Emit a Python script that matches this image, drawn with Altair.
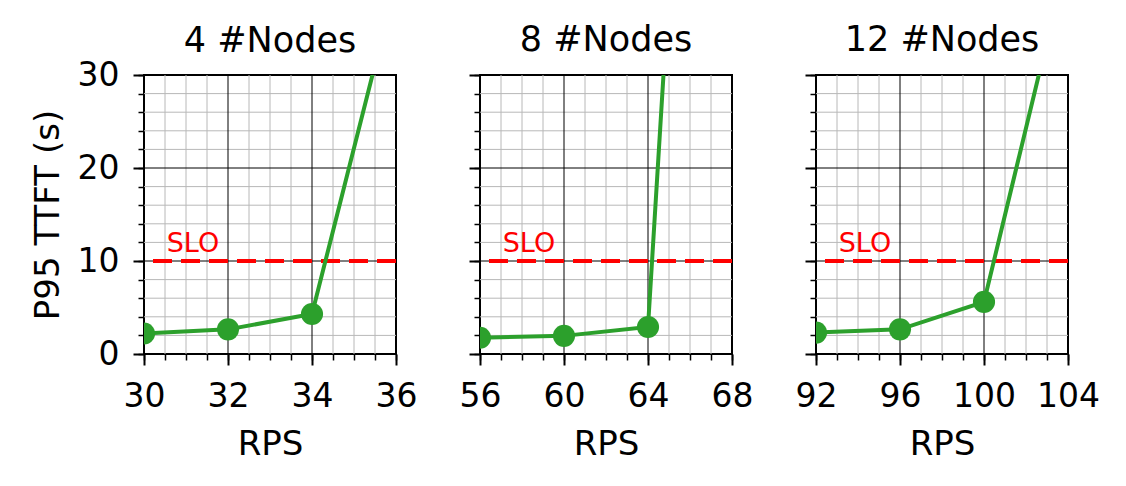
import altair as alt
import numpy as np
import pandas as pd

titles = ["4 #Nodes", "8 #Nodes", "12 #Nodes"]
rps = [[30, 32, 34, 36], [56, 60, 64, 68], [92, 96, 100, 104]]
ttft = [[2.2, 2.65, 4.3, 40], [1.75, 1.95, 2.9, 150], [2.3, 2.65, 5.6, 43]]
x_domains = [[30, 36], [56, 68], [92, 104]]
x_major = [[30, 32, 34, 36], [56, 60, 64, 68], [92, 96, 100, 104]]
x_minor_step = [0.5, 1, 1]
y_domain = [0, 30]
y_major = [0, 10, 20, 30]
y_minor_step = 2
slo = 10

GREEN = "#2ca02c"
FONT = "DejaVu Sans"
LFS = 33   # tick labels
TFS = 34   # axis titles
HFS = 35   # panel titles


def panel(i):
    dom = x_domains[i]
    xs = alt.Scale(domain=dom, nice=False, zero=False)
    ys = alt.Scale(domain=y_domain, nice=False)
    x_minor = [float(v) for v in np.round(np.arange(dom[0], dom[1] + 1e-9, x_minor_step[i]), 3)]
    y_minor = [float(v) for v in np.arange(y_domain[0], y_domain[1] + 1e-9, y_minor_step)]
    xg = [v for v in x_minor if v not in x_major[i]]
    yg = [v for v in y_minor if v not in y_major]
    xmaj_inner = [v for v in x_major[i] if dom[0] < v < dom[1]]
    ymaj_inner = [v for v in y_major if y_domain[0] < v < y_domain[1]]

    minor_x_axis = alt.Axis(values=x_minor, labels=False, tickSize=6, tickWidth=1.5,
                            tickColor="black", domain=False, grid=False, title=None,
                            orient="bottom")
    minor_y_axis = alt.Axis(values=y_minor, labels=False, tickSize=6, tickWidth=1.5,
                            tickColor="black", domain=False, grid=False, title=None,
                            orient="left")
    major_x_axis = alt.Axis(values=x_major[i], tickSize=11, tickWidth=2, tickColor="black",
                            domain=False, grid=False, title="RPS", labelFontSize=LFS,
                            titleFontSize=TFS, titleFontWeight="normal", labelPadding=15,
                            titlePadding=14, labelColor="black", titleColor="black",
                            orient="bottom", labelFlush=False)
    major_y_axis = alt.Axis(values=y_major, tickSize=11, tickWidth=2, tickColor="black",
                            domain=False, grid=False,
                            title="P95 TTFT (s)" if i == 0 else None,
                            labels=(i == 0), labelFontSize=LFS, titleFontSize=TFS,
                            titleFontWeight="normal", labelPadding=14, titlePadding=12,
                            labelColor="black", titleColor="black", orient="left",
                            labelFlush=False)

    gx = alt.Chart(pd.DataFrame({"v": xg})).mark_rule(color="#b8b8b8", strokeWidth=1).encode(
        x=alt.X("v:Q", scale=xs, axis=minor_x_axis))
    gy = alt.Chart(pd.DataFrame({"v": yg})).mark_rule(color="#b8b8b8", strokeWidth=1).encode(
        y=alt.Y("v:Q", scale=ys, axis=minor_y_axis))
    mx = alt.Chart(pd.DataFrame({"v": xmaj_inner})).mark_rule(color="black", strokeWidth=1).encode(
        x=alt.X("v:Q", scale=xs, axis=None))
    my = alt.Chart(pd.DataFrame({"v": ymaj_inner})).mark_rule(color="black", strokeWidth=1).encode(
        y=alt.Y("v:Q", scale=ys, axis=None))
    slo_rule = alt.Chart(pd.DataFrame({"v": [slo]})).mark_rule(
        color="red", strokeWidth=3.8, strokeDash=[19, 9]).encode(
        y=alt.Y("v:Q", scale=ys, axis=None))
    df = pd.DataFrame({"rps": rps[i], "ttft": ttft[i]})
    line = alt.Chart(df).mark_line(color=GREEN, strokeWidth=4, clip=True).encode(
        x=alt.X("rps:Q", scale=xs, axis=major_x_axis),
        y=alt.Y("ttft:Q", scale=ys, axis=major_y_axis))
    pts = alt.Chart(df).mark_circle(color=GREEN, size=490, opacity=1, clip=True).encode(
        x=alt.X("rps:Q", scale=xs, axis=None),
        y=alt.Y("ttft:Q", scale=ys, axis=None))
    txt = alt.Chart(pd.DataFrame({"x": [dom[0] + 0.09 * (dom[1] - dom[0])], "y": [slo + 1]})).mark_text(
        text="SLO", color="red", fontSize=27, align="left", baseline="alphabetic", font=FONT).encode(
        x=alt.X("x:Q", scale=xs, axis=None),
        y=alt.Y("y:Q", scale=ys, axis=None))

    return alt.layer(gx, gy, mx, my, slo_rule, line, pts, txt).resolve_axis(
        x="independent", y="independent").properties(
        width=252, height=279,
        title=alt.TitleParams(titles[i], fontSize=HFS, fontWeight="normal", font=FONT,
                              color="black", baseline="alphabetic",
                              offset=-28 if i == 0 else -12))


chart = alt.hconcat(panel(0), panel(1), panel(2), spacing=40).properties(
    padding={"left": 22, "top": 14, "right": 0, "bottom": 0}
).configure(font=FONT).configure_view(stroke="black", strokeWidth=2).configure_axis(
    labelFont=FONT, titleFont=FONT)

chart.save("out.html", embed_options={"renderer": "svg", "actions": False})
